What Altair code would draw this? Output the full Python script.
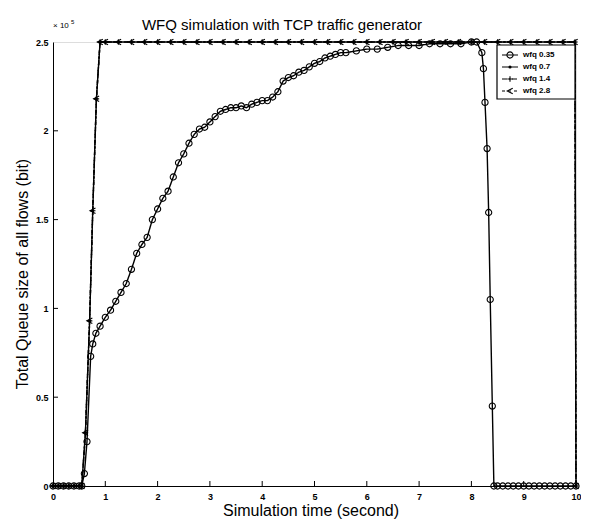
import altair as alt
import pandas as pd

# ---- data (queue size in units of 1e5 bit) ----
T35 = [0.0, 0.1, 0.2, 0.3, 0.4, 0.5, 0.55,
       0.6, 0.65, 0.72, 0.76, 0.82, 0.9,
       1.0, 1.1, 1.2, 1.3, 1.4, 1.5, 1.6, 1.7, 1.8, 1.9,
       2.0, 2.1, 2.2, 2.3, 2.4, 2.5, 2.6, 2.7, 2.8, 2.9,
       3.0, 3.1, 3.2, 3.3, 3.4, 3.5, 3.6, 3.7, 3.8, 3.9,
       4.0, 4.1, 4.2, 4.3, 4.4, 4.5, 4.6, 4.7, 4.8, 4.9,
       5.0, 5.1, 5.2, 5.3, 5.4, 5.5, 5.6,
       5.8, 6.0, 6.2, 6.4, 6.6, 6.8, 7.0, 7.2, 7.4, 7.6, 7.8, 8.0,
       8.1, 8.2, 8.23, 8.26, 8.3, 8.33, 8.36, 8.4, 8.43,
       8.5, 8.6, 8.7, 8.8, 8.9, 9.0, 9.1, 9.2, 9.3, 9.4, 9.5, 9.6, 9.7, 9.8, 9.9, 10.0]
Q35 = [0, 0, 0, 0, 0, 0, 0,
       0.07, 0.25, 0.73, 0.80, 0.86, 0.90,
       0.95, 0.99, 1.04, 1.09, 1.14, 1.22, 1.31, 1.36, 1.40, 1.50,
       1.56, 1.62, 1.66, 1.74, 1.82, 1.87, 1.93, 1.98, 2.01, 2.02,
       2.05, 2.08, 2.11, 2.12, 2.13, 2.13, 2.14, 2.13, 2.15, 2.16,
       2.17, 2.17, 2.19, 2.22, 2.28, 2.30, 2.31, 2.33, 2.34, 2.36,
       2.38, 2.39, 2.41, 2.42, 2.43, 2.44, 2.44,
       2.45, 2.46, 2.46, 2.47, 2.48, 2.48, 2.48, 2.49, 2.49, 2.49, 2.49, 2.50,
       2.50, 2.44, 2.35, 2.16, 1.90, 1.54, 1.05, 0.45, 0.0,
       0, 0, 0, 0, 0, 0, 0, 0, 0, 0, 0, 0, 0, 0, 0, 0]

TF = [0.0, 0.1, 0.2, 0.3, 0.4, 0.5, 0.55, 0.62, 0.7, 0.76, 0.83, 0.9,
      1.0, 1.25, 1.5, 1.75, 2.0, 2.25, 2.5, 2.75, 3.0, 3.25, 3.5, 3.75,
      4.0, 4.25, 4.5, 4.75, 5.0, 5.25, 5.5, 5.75, 6.0, 6.25, 6.5, 6.75,
      7.0, 7.25, 7.5, 7.75, 8.0, 8.25, 8.5, 8.75, 9.0, 9.25, 9.5, 9.75,
      9.98, 10.0]
Q07 = [0, 0, 0, 0, 0, 0, 0, 0.30, 0.93, 1.55, 2.18, 2.50,
       2.5, 2.5, 2.5, 2.5, 2.5, 2.5, 2.5, 2.5, 2.5, 2.5, 2.5, 2.5,
       2.5, 2.5, 2.5, 2.5, 2.5, 2.5, 2.5, 2.5, 2.5, 2.5, 2.5, 2.5,
       2.5, 2.5, 2.5, 2.5, 2.5, 2.5, 2.5, 2.5, 2.5, 2.5, 2.5, 2.5,
       2.5, 0]
Q14 = [0, 0, 0, 0, 0, 0, 0, 0.30, 0.93, 1.55, 2.18, 2.50,
       2.5, 2.5, 2.5, 2.5, 2.5, 2.5, 2.5, 2.5, 2.5, 2.5, 2.5, 2.5,
       2.5, 2.5, 2.5, 2.5, 2.5, 2.5, 2.5, 2.5, 2.5, 2.5, 2.5, 2.5,
       2.5, 2.5, 2.5, 2.5, 2.5, 2.5, 2.5, 2.5, 2.5, 2.5, 2.5, 2.5,
       2.5, 0]
Q28 = [0, 0, 0, 0, 0, 0, 0, 0.30, 0.93, 1.55, 2.18, 2.50,
       2.5, 2.5, 2.5, 2.5, 2.5, 2.5, 2.5, 2.5, 2.5, 2.5, 2.5, 2.5,
       2.5, 2.5, 2.5, 2.5, 2.5, 2.5, 2.5, 2.5, 2.5, 2.5, 2.5, 2.5,
       2.5, 2.5, 2.5, 2.5, 2.5, 2.5, 2.5, 2.5, 2.5, 2.5, 2.5, 2.5,
       2.5, 0]

SERIES = ["wfq 0.35", "wfq 0.7", "wfq 1.4", "wfq 2.8"]
X_TICKS = [0, 1, 2, 3, 4, 5, 6, 7, 8, 9, 10]
Y_TICKS = [0, 0.5, 1, 1.5, 2, 2.5]

TITLE = "WFQ simulation with TCP traffic generator"
XTITLE = "Simulation time (second)"
YTITLE = "Total Queue size of all flows (bit)"

W, H = 523, 444
FONT = "Liberation Sans"

X = alt.X("t:Q", scale=alt.Scale(domain=[0, 10], nice=False, zero=False),
          axis=alt.Axis(values=X_TICKS, title=None, grid=False, ticks=False,
                        labelFontSize=9, labelFontWeight="bold", labelFont=FONT,
                        labelColor="black", labelPadding=6, domainColor="black",
                        labelFlush=False))
Y = alt.Y("q:Q", scale=alt.Scale(domain=[0, 2.5], nice=False),
          axis=alt.Axis(values=Y_TICKS, title=None, grid=False, ticks=False,
                        format="~g", labelFontSize=9, labelFontWeight="bold",
                        labelFont=FONT, labelColor="black", labelPadding=5,
                        domainColor="black", labelFlush=False))

PLUS = "M-1,0L1,0M0,-1L0,1"
LESS = "M1,-1L-1,0L1,1"

styles = [
    # name, t, q, dash, shape, size, filled
    ("wfq 0.35", T35, Q35, [1, 0], "circle", 38, False),
    ("wfq 0.7", TF, Q07, [1, 0], "circle", 10, True),
    ("wfq 1.4", TF, Q14, [5, 2, 1, 2], PLUS, 30, False),
    ("wfq 2.8", TF, Q28, [3, 3], LESS, 30, False),
]

layers = []
for name, t, q, dash, shape, size, filled in styles:
    df = pd.DataFrame({"t": t, "q": q})
    base = alt.Chart(df)
    layers.append(base.mark_line(color="black", strokeWidth=1.4, strokeDash=dash,
                                 clip=False).encode(x=X, y=Y))
    layers.append(base.mark_point(shape=shape, size=size, filled=filled,
                                  color="black", strokeWidth=1.1, opacity=1,
                                  clip=False).encode(x=X, y=Y))

# inward tick marks
xt = pd.DataFrame({"t": X_TICKS[1:-1]})
layers.append(alt.Chart(xt).mark_rule(color="black", strokeWidth=1).encode(
    x=X, y=alt.value(H), y2=alt.value(H - 5)))
yt = pd.DataFrame({"q": Y_TICKS[1:-1]})
layers.append(alt.Chart(yt).mark_rule(color="black", strokeWidth=1).encode(
    y=Y, x=alt.value(0), x2=alt.value(5)))

one = pd.DataFrame({"a": [0]})

# legend box
LX0, LX1, LY0, LY1 = 444, 522, 3, 57
layers.append(alt.Chart(one).mark_rect(fill="white", stroke="black", strokeWidth=1.2).encode(
    x=alt.value(LX0), x2=alt.value(LX1), y=alt.value(LY0), y2=alt.value(LY1)))
rows = [13, 25, 37, 49]
for (name, t, q, dash, shape, size, filled), ry in zip(styles, rows):
    layers.append(alt.Chart(one).mark_rule(color="black", strokeWidth=1.2,
                                           strokeDash=dash).encode(
        x=alt.value(449), x2=alt.value(465), y=alt.value(ry)))
    layers.append(alt.Chart(one).mark_point(shape=shape, size=size, filled=filled,
                                            color="black", strokeWidth=1.1,
                                            opacity=1).encode(
        x=alt.value(457), y=alt.value(ry)))
    layers.append(alt.Chart(one).mark_text(text=name, fontSize=8, fontWeight="bold",
                                           font=FONT, align="left",
                                           baseline="middle", color="black").encode(
        x=alt.value(470), y=alt.value(ry)))

# titles and exponent
layers.append(alt.Chart(one).mark_text(text=TITLE, fontSize=15, font=FONT,
                                       align="center", baseline="alphabetic",
                                       color="black").encode(
    x=alt.value(229), y=alt.value(-12)))
layers.append(alt.Chart(one).mark_text(text=XTITLE, fontSize=16, font=FONT,
                                       align="center", baseline="alphabetic",
                                       color="black").encode(
    x=alt.value(258), y=alt.value(H + 30)))
layers.append(alt.Chart(one).mark_text(text=YTITLE, fontSize=16, font=FONT,
                                       align="center", baseline="middle", angle=270,
                                       color="black").encode(
    x=alt.value(-30), y=alt.value(232)))
layers.append(alt.Chart(one).mark_text(text="× 10", fontSize=8, font=FONT,
                                       align="left", baseline="alphabetic",
                                       color="black").encode(
    x=alt.value(0), y=alt.value(-14)))
layers.append(alt.Chart(one).mark_text(text="5", fontSize=6, font=FONT,
                                       align="left", baseline="alphabetic",
                                       color="black").encode(
    x=alt.value(18), y=alt.value(-18)))

chart = alt.layer(*layers).properties(
    width=W, height=H, autosize="none",
    padding={"left": 45, "top": 34, "right": 5, "bottom": 38},
).configure_view(stroke="black", strokeWidth=1.2).configure(background="white")

chart.save("out.html", embed_options={"renderer": "svg", "actions": False})
